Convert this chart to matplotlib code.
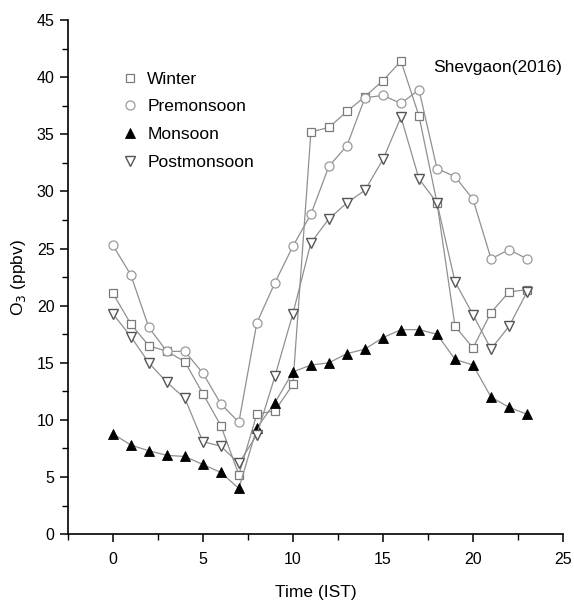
import matplotlib
matplotlib.use("Agg")
import matplotlib.pyplot as plt
from matplotlib.ticker import MultipleLocator

plt.rcParams["font.family"] = ["Liberation Sans", "DejaVu Sans"]

hours = list(range(24))
winter = [21.1, 18.4, 16.5, 16.0, 15.1, 12.3, 9.5, 5.2, 10.5, 10.8, 13.1, 35.2,
          35.6, 37.0, 38.3, 39.7, 41.4, 36.6, 29.0, 18.2, 16.3, 19.4, 21.2, 21.4]
premonsoon = [25.3, 22.7, 18.1, 16.0, 16.0, 14.1, 11.4, 9.8, 18.5, 22.0, 25.2, 28.0,
              32.2, 34.0, 38.2, 38.4, 37.7, 38.9, 32.0, 31.3, 29.3, 24.1, 24.9, 24.1]
monsoon = [8.8, 7.8, 7.3, 6.9, 6.8, 6.1, 5.4, 4.0, 9.3, 11.5, 14.2, 14.8,
           15.0, 15.8, 16.2, 17.2, 17.9, 17.9, 17.5, 15.3, 14.8, 12.0, 11.1, 10.5]
postmonsoon = [19.3, 17.3, 15.0, 13.3, 11.9, 8.1, 7.7, 6.2, 8.7, 13.8, 19.3, 25.5,
               27.6, 29.0, 30.1, 32.8, 36.5, 31.1, 29.0, 22.1, 19.2, 16.2, 18.2, 21.2]

fig = plt.figure(figsize=(5.74, 6.07), dpi=100)
ax = fig.add_axes([0.118, 0.120, 0.863, 0.847])

line_c = "#909090"
ax.plot(hours, winter, "-", color=line_c, lw=0.9, marker="s", ms=5.5,
        mfc="white", mec="#7a7a7a", mew=0.9, label="Winter")
ax.plot(hours, premonsoon, "-", color=line_c, lw=0.9, marker="o", ms=6.5,
        mfc="white", mec="#9a9a9a", mew=0.9, label="Premonsoon")
ax.plot(hours, monsoon, "-", color=line_c, lw=0.9, marker="^", ms=7,
        mfc="black", mec="black", mew=0.6, label="Monsoon")
ax.plot(hours, postmonsoon, "-", color=line_c, lw=0.9, marker="v", ms=7,
        mfc="white", mec="#555555", mew=1.0, label="Postmonsoon")

ax.set_xlim(-2.5, 25)
ax.set_ylim(0, 45)
ax.xaxis.set_major_locator(MultipleLocator(5))
ax.xaxis.set_minor_locator(MultipleLocator(2.5))
ax.yaxis.set_major_locator(MultipleLocator(5))
ax.yaxis.set_minor_locator(MultipleLocator(2.5))
ax.tick_params(which="major", direction="out", length=6, width=1.1, labelsize=11.5)
ax.tick_params(axis="x", which="major", pad=7)
ax.tick_params(which="minor", direction="out", length=4, width=1.0)
for side in ("top", "right"):
    ax.spines[side].set_visible(False)
for side in ("left", "bottom"):
    ax.spines[side].set_linewidth(1.2)

ax.set_xlabel("Time (IST)", fontsize=12.5, labelpad=13)
ax.set_ylabel("O$_3$ (ppbv)", fontsize=12.5, labelpad=6)

leg = ax.legend(loc="upper left", bbox_to_anchor=(0.08, 0.93), frameon=False,
                fontsize=12.5, handlelength=0.8, handletextpad=0.6,
                labelspacing=0.72)
for h in leg.legend_handles:
    h.set_linestyle("none")

ax.text(0.997, 0.908, "Shevgaon(2016)", transform=ax.transAxes, ha="right",
        va="center", fontsize=12.5)

fig.savefig("out.png", dpi=100)
